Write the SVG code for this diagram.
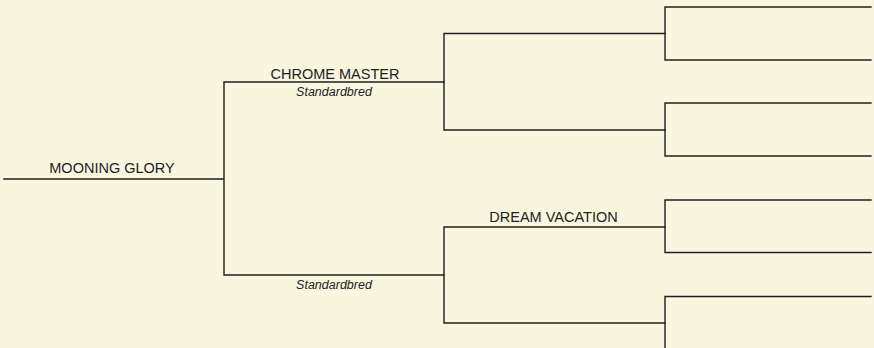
<svg xmlns="http://www.w3.org/2000/svg" width="874" height="348" viewBox="0 0 874 348">
<style>
.ln{stroke:#1e1e1e;stroke-width:1.4;fill:none;stroke-linecap:square}
.nm{font-family:"Liberation Sans",Arial,sans-serif;font-size:14.5px;fill:#222;text-anchor:middle}
.br{font-family:"Liberation Sans",Arial,sans-serif;font-size:12.5px;font-style:italic;fill:#222;text-anchor:middle}
</style>
<rect width="874" height="348" fill="#F9F6E0"/>
<g id="connectors">
<path class="ln" d="M4,179H224M224,82V275M224,82H444M224,275H444"/>
<path class="ln" d="M444,33.5V130M444,33.5H665M444,130H665M444,227V323M444,227H665M444,323H665"/>
<path class="ln" d="M665,7V60M665,7H871M665,60H871M665,103V156M665,103H871M665,156H871"/>
<path class="ln" d="M665,200V252.5M665,200H871M665,252.5H871M665,296.5V349M665,296.5H871"/>
</g>
<g id="n-mooning-glory"><text class="nm" x="112" y="172.7">MOONING GLORY</text></g>
<g id="n-chrome-master"><text class="nm" x="335" y="79">CHROME MASTER</text><text class="br" x="334" y="95.5">Standardbred</text></g>
<g id="n-dam"><text class="br" x="334" y="288.8">Standardbred</text></g>
<g id="n-dream-vacation"><text class="nm" x="553.5" y="222.3">DREAM VACATION</text></g>
</svg>
